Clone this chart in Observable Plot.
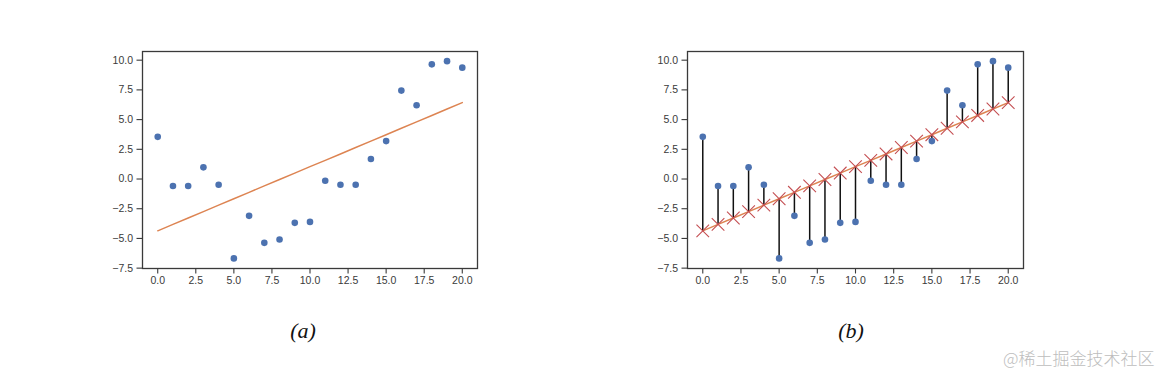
<!DOCTYPE html>
<html>
<head>
<meta charset="utf-8">
<script src="https://cdn.jsdelivr.net/npm/d3@7"></script>
<script src="https://cdn.jsdelivr.net/npm/@observablehq/plot@0.6"></script>
<style>
  html, body { margin: 0; padding: 0; background: #fff; }
  #wrap { position: relative; width: 1164px; height: 373px; overflow: hidden; }
  .panel { position: absolute; top: 0; }
  .cap { position: absolute; font-family: "Liberation Serif", "DejaVu Serif", serif; font-style: italic; font-size: 22px; color: #111; transform: translateX(-50%); }
  .wm { position: absolute; font-family: "Noto Sans CJK SC", sans-serif; font-weight: 300; font-size: 17px; color: #bdbdbd; }
</style>
</head>
<body>
<div id="wrap">
  <div class="panel" id="pa" style="left:0px"></div>
  <div class="panel" id="pb" style="left:582px"></div>
  <div class="cap" style="left:303px; top:318px">(a)</div>
  <div class="cap" style="left:851px; top:318px">(b)</div>
  <div class="wm" style="left:1003px; top:345px">@稀土掘金技术社区</div>
</div>
<script>
const xs = [0,1,2,3,4,5,6,7,8,9,10,11,12,13,14,15,16,17,18,19,20];
const ys = [3.55,-0.59,-0.59,0.98,-0.48,-6.68,-3.10,-5.37,-5.09,-3.69,-3.61,-0.14,-0.48,-0.48,1.68,3.19,7.44,6.21,9.65,9.92,9.37];
const fitted = [-4.36,-3.82,-3.28,-2.74,-2.20,-1.66,-1.12,-0.58,-0.04,0.50,1.04,1.57,2.11,2.65,3.19,3.73,4.27,4.81,5.35,5.89,6.43];
const xTicks = [0,2.5,5,7.5,10,12.5,15,17.5,20];
const yTicks = [-7.5,-5,-2.5,0,2.5,5,7.5,10];

const data = xs.map((x, i) => ({x, y: ys[i], f: fitted[i]}));

const BLUE = "#4c72b0", ORANGE = "#dd8452", RED = "#c44e52", AX = "#3a3a3a";

function base(marks, ml, mr) {
  return Plot.plot({
    width: 582, height: 300,
    marginLeft: ml, marginRight: mr, marginTop: 51, marginBottom: 32,
    style: {fontFamily: "Liberation Sans, Arial, sans-serif", fontSize: "10.5px", color: AX, background: "transparent"},
    x: {domain: [-1, 21], label: null},
    y: {domain: [-7.53, 10.73], label: null},
    marks: [
      ...marks,
      Plot.frame({stroke: AX, strokeWidth: 1.3}),
      Plot.axisX({ticks: xTicks, tickFormat: d3.format(".1f"), tickSize: 5.5, tickPadding: 3, stroke: AX, strokeWidth: 1.1, fill: AX}),
      Plot.axisY({ticks: yTicks, tickFormat: d3.format(".1f"), tickSize: 5.5, tickPadding: 4, stroke: AX, strokeWidth: 1.1, fill: AX})
    ]
  });
}

const a = base([
  Plot.line(data, {x: "x", y: "f", stroke: ORANGE, strokeWidth: 1.5}),
  Plot.dot(data, {x: "x", y: "y", r: 3.3, fill: BLUE, stroke: "none"})
], 142, 105);
document.getElementById("pa").appendChild(a);

const b = base([
  Plot.ruleX(data, {x: "x", y1: "y", y2: "f", stroke: "#111", strokeWidth: 1.5}),
  Plot.line(data, {x: "x", y: "f", stroke: ORANGE, strokeWidth: 1.5}),
  Plot.dot(data, {x: "x", y: "f", symbol: "times", r: 5.8, stroke: RED, strokeWidth: 1.1}),
  Plot.dot(data, {x: "x", y: "y", r: 3.3, fill: BLUE, stroke: "none"})
], 105, 141);
document.getElementById("pb").appendChild(b);
</script>
</body>
</html>
